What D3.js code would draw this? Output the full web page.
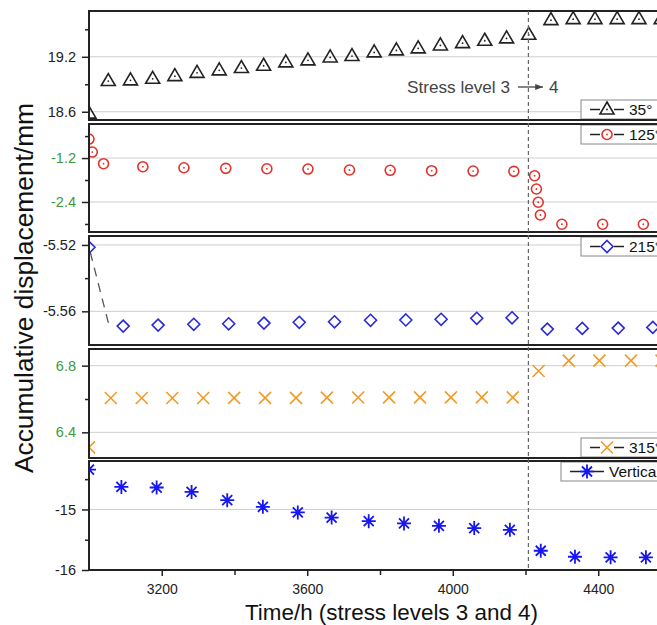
<!DOCTYPE html>
<html>
<head>
<meta charset="utf-8">
<script src="https://cdn.jsdelivr.net/npm/d3@7"></script>
<style>
body { margin: 0; background: #fff; }
svg { display: block; font-family: Arial, "Liberation Sans", sans-serif; }
</style>
</head>
<body>
<div id="chart"></div>
<script>
// values (time in h, displacement in mm)
let t35 = [3000, 3053, 3114, 3175, 3236, 3297, 3358, 3419, 3480, 3541, 3602, 3663, 3723, 3784,
           3845, 3905, 3966, 4027, 4088, 4148, 4209, 4270, 4331, 4391, 4452, 4512, 4573];
let v35 = [18.58, 18.935, 18.943, 18.96, 18.989, 19.025, 19.052, 19.077, 19.102, 19.139, 19.161,
           19.193, 19.208, 19.248, 19.27, 19.292, 19.324, 19.349, 19.375, 19.401, 19.44,
           19.6, 19.611, 19.611, 19.611, 19.611, 19.611];

let t125 = [3000, 3009, 3040, 3148, 3261, 3376, 3489, 3602, 3716, 3828, 3942, 4056, 4168,
            4225, 4230, 4235, 4241, 4300, 4412, 4524];
let v125 = [-0.682, -1.036, -1.355, -1.437, -1.465, -1.481, -1.492, -1.5, -1.527, -1.535, -1.546,
            -1.555, -1.563, -1.683, -2.045, -2.408, -2.755, -3.008, -3.008, -3.008];

let t215 = [3000, 3094, 3190, 3288, 3384, 3481, 3578, 3675, 3774, 3871, 3968, 4066, 4163,
            4260, 4356, 4455, 4550];
let v215 = [-5.5214, -5.5689, -5.5683, -5.5678, -5.5675, -5.5671, -5.5666, -5.5663, -5.5654,
            -5.5652, -5.5648, -5.5642, -5.5639, -5.5707, -5.5703, -5.5701, -5.5697];

let t315 = [3000, 3060, 3145, 3229, 3314, 3399, 3484, 3569, 3654, 3740, 3825, 3910, 3995, 4080,
            4165, 4236, 4319, 4403, 4490, 4574];
let v315 = [6.31, 6.606, 6.606, 6.606, 6.606, 6.607, 6.607, 6.607, 6.608, 6.609, 6.61, 6.61, 6.61,
            6.61, 6.61, 6.768, 6.83, 6.83, 6.83, 6.83];

let tVert = [3000, 3089, 3186, 3282, 3380, 3478, 3574, 3667, 3769, 3866, 3962, 4059, 4157,
             4242, 4336, 4434, 4531];
let vVert = [-14.341, -14.628, -14.638, -14.71, -14.847, -14.957, -15.049, -15.135, -15.193,
             -15.231, -15.27, -15.308, -15.336, -15.682, -15.781, -15.791, -15.791];

let xMajor = [3200, 3600, 4000, 4400];
let xMinor = [3400, 3800, 4200];
let stressChange = 4208;

let width = 657, height = 625;
let left = 89;

let svg = d3.select('#chart')
    .append('svg')
    .attr('width', width)
    .attr('height', height);

// x runs off the right edge of the picture, as in the original
let x = d3.scaleLinear()
    .domain([3000, 4600])
    .range([left, left + 1600 * 0.36375]);

// one panel per direction
let panels = [
    {name: '35°', t: t35, v: v35, top: 11, bottom: 120, domain: [18.51, 19.70],
     major: [18.6, 19.2], minor: [18.9, 19.5], fmt: d => d.toFixed(1), tickColor: '#222',
     symbol: 'triangle', color: '#222', legendX: 581, legendAt: 'bottom'},
    {name: '125°', t: t125, v: v125, top: 124, bottom: 232, domain: [-3.22, -0.27],
     major: [-2.4, -1.2], minor: [-3.0, -1.8, -0.6], fmt: d => d.toFixed(1), tickColor: '#3c9a3c',
     symbol: 'circle', color: '#e2312b', legendX: 581, legendAt: 'top'},
    {name: '215°', t: t215, v: v215, top: 236, bottom: 345, domain: [-5.5803, -5.5146],
     major: [-5.56, -5.52], minor: [-5.54], fmt: d => d.toFixed(2), tickColor: '#222',
     symbol: 'diamond', color: '#2a2ad8', legendX: 581, legendAt: 'top'},
    {name: '315°', t: t315, v: v315, top: 349, bottom: 458, domain: [6.246, 6.90],
     major: [6.4, 6.8], minor: [6.6], fmt: d => d.toFixed(1), tickColor: '#3c9a3c',
     symbol: 'cross', color: '#f29a26', legendX: 581, legendAt: 'bottom'},
    {name: 'Vertical', t: tVert, v: vVert, top: 461, bottom: 570, domain: [-16, -14.20],
     major: [-16, -15], minor: [-15.5, -14.5], fmt: d => d.toFixed(0), tickColor: '#222',
     symbol: 'star', color: '#1616ee', legendX: 561, legendAt: 'top'}
];

// draws one marker centred on 0,0
function drawSymbol(g, type, color) {
    if (type === 'triangle') {
        g.append('path').attr('d', 'M0,-7.5L7,4.5L-7,4.5Z')
            .attr('fill', 'none').attr('stroke', color).attr('stroke-width', 1.6);
        g.append('circle').attr('r', 0.9).attr('fill', color);
    } else if (type === 'circle') {
        g.append('circle').attr('r', 5)
            .attr('fill', 'none').attr('stroke', color).attr('stroke-width', 1.6);
        g.append('circle').attr('r', 0.9).attr('fill', color);
    } else if (type === 'diamond') {
        g.append('path').attr('d', 'M0,-6L6,0L0,6L-6,0Z')
            .attr('fill', 'none').attr('stroke', color).attr('stroke-width', 1.6);
    } else if (type === 'cross') {
        g.append('path').attr('d', 'M-6,-6L6,6M-6,6L6,-6')
            .attr('stroke', color).attr('stroke-width', 1.6);
    } else {
        g.append('path').attr('d', 'M0,-7L0,7M-7,0L7,0M-5,-5L5,5M-5,5L5,-5')
            .attr('stroke', color).attr('stroke-width', 1.8);
    }
}

let defs = svg.append('defs');

panels.forEach((p, i) => {
    let y = d3.scaleLinear().domain(p.domain).range([p.bottom, p.top]);
    let g = svg.append('g');

    defs.append('clipPath').attr('id', 'clip' + i)
        .append('rect')
        .attr('x', left).attr('y', p.top)
        .attr('width', 700).attr('height', p.bottom - p.top);

    // grid lines at the labelled ticks
    g.selectAll('line.grid').data(p.major).enter()
        .append('line')
        .attr('class', 'grid')
        .attr('x1', left).attr('x2', width)
        .attr('y1', d => y(d)).attr('y2', d => y(d))
        .attr('stroke', '#cfcfcf').attr('stroke-width', 1);

    // y axis: major with labels, minor without
    let yAxis = g.append('g')
        .attr('transform', `translate(${left}, 0)`)
        .call(d3.axisLeft(y).tickValues(p.major).tickSize(7).tickPadding(6).tickFormat(p.fmt));
    yAxis.select('.domain').remove();
    yAxis.selectAll('line').attr('stroke', '#222').attr('stroke-width', 1.5);
    yAxis.selectAll('text')
        .attr('fill', p.tickColor)
        .style('font-size', '14.5px')
        .style('font-family', 'Arial, "Liberation Sans", sans-serif');

    let yMinor = g.append('g')
        .attr('transform', `translate(${left}, 0)`)
        .call(d3.axisLeft(y).tickValues(p.minor).tickSize(4).tickFormat(''));
    yMinor.select('.domain').remove();
    yMinor.selectAll('line').attr('stroke', '#222').attr('stroke-width', 1.5);

    // the first 215° step has a dashed connecting line
    if (p.symbol === 'diamond') {
        g.append('line')
            .attr('clip-path', `url(#clip${i})`)
            .attr('x1', x(p.t[0])).attr('y1', y(p.v[0]))
            .attr('x2', x(p.t[1]) - 14).attr('y2', y(p.v[1]))
            .attr('stroke', '#555').attr('stroke-width', 1.3)
            .attr('stroke-dasharray', '9,7')
            .attr('stroke-dashoffset', -5);
    }

    // markers
    let pts = g.append('g').attr('clip-path', `url(#clip${i})`);
    p.t.forEach((t, j) => {
        let m = pts.append('g').attr('transform', `translate(${x(t)}, ${y(p.v[j])})`);
        drawSymbol(m, p.symbol, p.color);
    });

    // legend box
    let ly = p.legendAt === 'top' ? p.top + 1 : p.bottom - 20;
    let leg = g.append('g').attr('transform', `translate(${p.legendX}, ${ly})`);
    leg.append('rect')
        .attr('width', 120).attr('height', 19)
        .attr('fill', '#fff').attr('stroke', '#888').attr('stroke-width', 1);
    leg.append('line')
        .attr('x1', 9).attr('x2', 43).attr('y1', 9.5).attr('y2', 9.5)
        .attr('stroke', '#222').attr('stroke-width', 1.3);
    let lm = leg.append('g').attr('transform', 'translate(26, 9.5)');
    lm.append('rect').attr('x', -7).attr('y', -7).attr('width', 14).attr('height', 14).attr('fill', '#fff');
    drawSymbol(lm, p.symbol, p.color);
    leg.append('text')
        .attr('x', 48).attr('y', 15)
        .style('font-size', '15.5px')
        .attr('fill', '#111')
        .text(p.name);

    // panel frame
    g.append('rect')
        .attr('x', left).attr('y', p.top)
        .attr('width', 700).attr('height', p.bottom - p.top)
        .attr('fill', 'none').attr('stroke', '#222').attr('stroke-width', 2);
});

// stress level change marker
svg.append('line')
    .attr('x1', x(stressChange)).attr('x2', x(stressChange))
    .attr('y1', 11).attr('y2', 570)
    .attr('stroke', '#666').attr('stroke-width', 1.2)
    .attr('stroke-dasharray', '4,3');

svg.append('text')
    .attr('x', 407).attr('y', 93)
    .attr('fill', '#444')
    .attr('textLength', 103)
    .attr('lengthAdjust', 'spacingAndGlyphs')
    .style('font-size', '17px')
    .text('Stress level 3');
defs.append('marker').attr('id', 'arrow')
    .attr('viewBox', '0 0 10 10').attr('refX', 10).attr('refY', 5)
    .attr('markerWidth', 6).attr('markerHeight', 6).attr('orient', 'auto')
    .append('path').attr('d', 'M0,1L10,5L0,9Z').attr('fill', '#444');
svg.append('line')
    .attr('x1', 518).attr('x2', 543).attr('y1', 87).attr('y2', 87)
    .attr('stroke', '#444').attr('stroke-width', 1.3)
    .attr('marker-end', 'url(#arrow)');
svg.append('text')
    .attr('x', 549).attr('y', 93)
    .attr('fill', '#444')
    .style('font-size', '17px')
    .text('4');

// x axis along the bottom panel
let xAxis = svg.append('g')
    .attr('transform', 'translate(0, 570)')
    .call(d3.axisBottom(x).tickValues(xMajor).tickSize(6).tickPadding(8).tickFormat(d3.format('d')));
xAxis.select('.domain').remove();
xAxis.selectAll('line').attr('stroke', '#222').attr('stroke-width', 1.5);
xAxis.selectAll('text')
    .attr('fill', '#222')
    .style('font-size', '14px')
    .style('font-family', 'Arial, "Liberation Sans", sans-serif');

let xMinorAxis = svg.append('g')
    .attr('transform', 'translate(0, 570)')
    .call(d3.axisBottom(x).tickValues(xMinor).tickSize(5).tickFormat(''));
xMinorAxis.select('.domain').remove();
xMinorAxis.selectAll('line').attr('stroke', '#222').attr('stroke-width', 1.5);

// axis titles
svg.append('text')
    .attr('x', 391.5).attr('y', 620)
    .style('text-anchor', 'middle')
    .style('font-size', '22px')
    .attr('textLength', 293)
    .attr('lengthAdjust', 'spacingAndGlyphs')
    .attr('fill', '#111')
    .text('Time/h (stress levels 3 and 4)');

svg.append('text')
    .attr('transform', 'translate(33, 288) rotate(-90)')
    .style('text-anchor', 'middle')
    .style('font-size', '26px')
    .attr('textLength', 370)
    .attr('lengthAdjust', 'spacingAndGlyphs')
    .attr('fill', '#111')
    .text('Accumulative displacement/mm');
</script>
</body>
</html>
